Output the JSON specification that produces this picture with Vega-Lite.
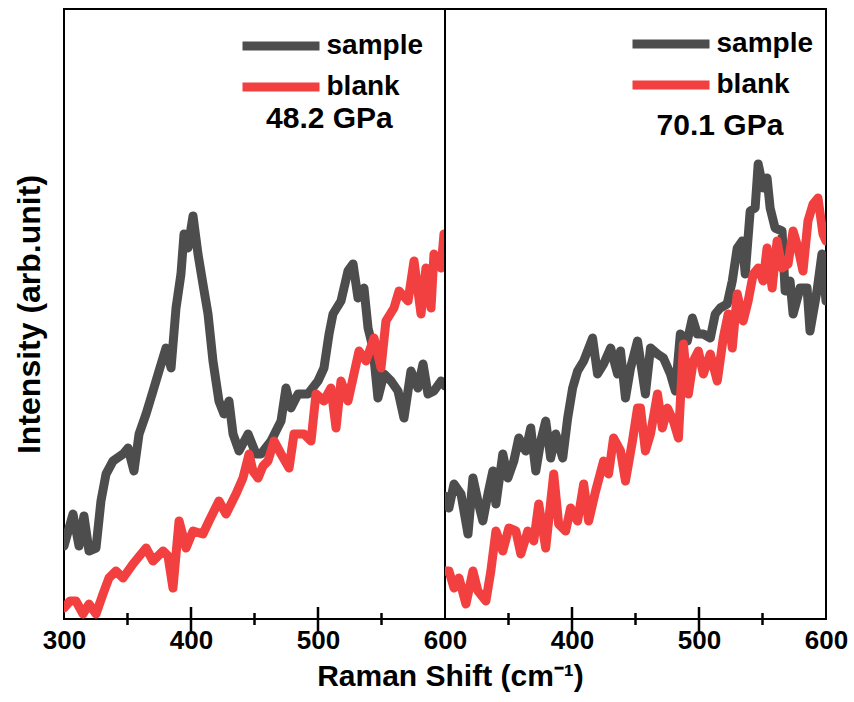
{
  "$schema": "https://vega.github.io/schema/vega-lite/v6.json",
  "padding": {"left": 12, "top": 8, "right": 10, "bottom": 5},
  "bounds": "flush",
  "spacing": 0,
  "background": "white",
  "config": {
    "font": "Liberation Sans",
    "view": {"stroke": "black", "strokeWidth": 2},
    "axis": {"grid": false},
    "line": {"strokeWidth": 9, "strokeJoin": "round", "strokeCap": "round"}
  },
  "datasets": {
    "a": [
      {"s":"sample","x":300,"y":73},{"s":"sample","x":307.1,"y":105},{"s":"sample","x":311.8,"y":73},{"s":"sample","x":315.7,"y":103},{"s":"sample","x":319.7,"y":68},{"s":"sample","x":325.2,"y":71},{"s":"sample","x":329.1,"y":118},{"s":"sample","x":333.1,"y":145},{"s":"sample","x":338.6,"y":158},{"s":"sample","x":346.5,"y":165},{"s":"sample","x":350.4,"y":171},{"s":"sample","x":355.1,"y":148},{"s":"sample","x":359.1,"y":185},{"s":"sample","x":364.6,"y":205},{"s":"sample","x":370.1,"y":228},{"s":"sample","x":374.8,"y":248},{"s":"sample","x":380.3,"y":271},{"s":"sample","x":384.3,"y":251},{"s":"sample","x":388.2,"y":311},{"s":"sample","x":392.1,"y":345},{"s":"sample","x":394.5,"y":385},{"s":"sample","x":397.6,"y":371},{"s":"sample","x":401.6,"y":403},{"s":"sample","x":405.5,"y":365},{"s":"sample","x":409.4,"y":335},{"s":"sample","x":413.4,"y":305},{"s":"sample","x":417.3,"y":258},{"s":"sample","x":422.0,"y":218},{"s":"sample","x":426.0,"y":205},{"s":"sample","x":429.9,"y":218},{"s":"sample","x":433.1,"y":185},{"s":"sample","x":437.8,"y":168},{"s":"sample","x":444.9,"y":185},{"s":"sample","x":451.2,"y":165},{"s":"sample","x":455.1,"y":165},{"s":"sample","x":463.0,"y":178},{"s":"sample","x":470.9,"y":198},{"s":"sample","x":474.8,"y":231},{"s":"sample","x":478.7,"y":211},{"s":"sample","x":484.3,"y":225},{"s":"sample","x":492.1,"y":225},{"s":"sample","x":500.0,"y":238},{"s":"sample","x":504.7,"y":251},{"s":"sample","x":508.7,"y":285},{"s":"sample","x":511.8,"y":305},{"s":"sample","x":518.1,"y":318},{"s":"sample","x":523.6,"y":348},{"s":"sample","x":527.6,"y":355},{"s":"sample","x":531.5,"y":321},{"s":"sample","x":536.2,"y":331},{"s":"sample","x":539.4,"y":291},{"s":"sample","x":543.3,"y":271},{"s":"sample","x":547.2,"y":221},{"s":"sample","x":552.0,"y":245},{"s":"sample","x":557.5,"y":238},{"s":"sample","x":563.0,"y":228},{"s":"sample","x":567.7,"y":201},{"s":"sample","x":573.2,"y":248},{"s":"sample","x":578.7,"y":231},{"s":"sample","x":582.7,"y":255},{"s":"sample","x":586.6,"y":225},{"s":"sample","x":591.3,"y":228},{"s":"sample","x":596.9,"y":238},{"s":"sample","x":600,"y":233},
      {"s":"blank","x":300,"y":11},{"s":"blank","x":304.7,"y":18},{"s":"blank","x":309.4,"y":18},{"s":"blank","x":315.0,"y":5},{"s":"blank","x":319.7,"y":15},{"s":"blank","x":325.2,"y":5},{"s":"blank","x":330.7,"y":25},{"s":"blank","x":335.4,"y":41},{"s":"blank","x":340.9,"y":48},{"s":"blank","x":346.5,"y":41},{"s":"blank","x":354.3,"y":55},{"s":"blank","x":364.6,"y":71},{"s":"blank","x":370.1,"y":58},{"s":"blank","x":378.0,"y":68},{"s":"blank","x":381.9,"y":63},{"s":"blank","x":385.8,"y":31},{"s":"blank","x":390.6,"y":98},{"s":"blank","x":396.1,"y":71},{"s":"blank","x":401.6,"y":88},{"s":"blank","x":409.4,"y":85},{"s":"blank","x":414.2,"y":98},{"s":"blank","x":422.0,"y":118},{"s":"blank","x":427.6,"y":105},{"s":"blank","x":435.4,"y":125},{"s":"blank","x":440.9,"y":141},{"s":"blank","x":445.7,"y":165},{"s":"blank","x":448.8,"y":148},{"s":"blank","x":452.8,"y":141},{"s":"blank","x":456.7,"y":153},{"s":"blank","x":460.6,"y":158},{"s":"blank","x":465.4,"y":178},{"s":"blank","x":470.9,"y":165},{"s":"blank","x":477.2,"y":151},{"s":"blank","x":481.1,"y":185},{"s":"blank","x":489.0,"y":185},{"s":"blank","x":494.5,"y":178},{"s":"blank","x":498.4,"y":225},{"s":"blank","x":504.7,"y":218},{"s":"blank","x":510.2,"y":231},{"s":"blank","x":514.2,"y":191},{"s":"blank","x":518.1,"y":238},{"s":"blank","x":523.6,"y":218},{"s":"blank","x":528.3,"y":245},{"s":"blank","x":532.3,"y":268},{"s":"blank","x":537.8,"y":258},{"s":"blank","x":544.1,"y":281},{"s":"blank","x":549.6,"y":251},{"s":"blank","x":553.5,"y":298},{"s":"blank","x":559.8,"y":311},{"s":"blank","x":563.8,"y":328},{"s":"blank","x":570.9,"y":318},{"s":"blank","x":575.6,"y":358},{"s":"blank","x":581.1,"y":305},{"s":"blank","x":585.0,"y":351},{"s":"blank","x":589.0,"y":311},{"s":"blank","x":591.3,"y":365},{"s":"blank","x":596.9,"y":351},{"s":"blank","x":599.2,"y":385}
    ],
    "b": [
      {"s":"sample","x":300,"y":123},{"s":"sample","x":303.1,"y":111},{"s":"sample","x":307.1,"y":135},{"s":"sample","x":312.6,"y":125},{"s":"sample","x":318.1,"y":85},{"s":"sample","x":322.0,"y":141},{"s":"sample","x":325.9,"y":118},{"s":"sample","x":329.8,"y":98},{"s":"sample","x":333.8,"y":125},{"s":"sample","x":337.7,"y":148},{"s":"sample","x":340.1,"y":115},{"s":"sample","x":345.5,"y":165},{"s":"sample","x":349.5,"y":141},{"s":"sample","x":354.2,"y":158},{"s":"sample","x":358.1,"y":181},{"s":"sample","x":363.6,"y":168},{"s":"sample","x":367.5,"y":191},{"s":"sample","x":371.5,"y":148},{"s":"sample","x":375.4,"y":178},{"s":"sample","x":379.3,"y":198},{"s":"sample","x":383.2,"y":161},{"s":"sample","x":387.2,"y":185},{"s":"sample","x":392.7,"y":161},{"s":"sample","x":396.6,"y":201},{"s":"sample","x":400.5,"y":231},{"s":"sample","x":404.4,"y":248},{"s":"sample","x":409.2,"y":258},{"s":"sample","x":416.2,"y":281},{"s":"sample","x":420.1,"y":245},{"s":"sample","x":424.9,"y":255},{"s":"sample","x":430.4,"y":271},{"s":"sample","x":435.9,"y":245},{"s":"sample","x":438.2,"y":268},{"s":"sample","x":442.1,"y":221},{"s":"sample","x":446.1,"y":251},{"s":"sample","x":451.6,"y":278},{"s":"sample","x":457.8,"y":225},{"s":"sample","x":461.8,"y":271},{"s":"sample","x":467.3,"y":265},{"s":"sample","x":472.0,"y":261},{"s":"sample","x":477.5,"y":245},{"s":"sample","x":481.4,"y":228},{"s":"sample","x":485.3,"y":285},{"s":"sample","x":490.8,"y":278},{"s":"sample","x":494.8,"y":301},{"s":"sample","x":498.7,"y":285},{"s":"sample","x":503.4,"y":285},{"s":"sample","x":508.9,"y":281},{"s":"sample","x":512.8,"y":305},{"s":"sample","x":516.7,"y":311},{"s":"sample","x":522.2,"y":315},{"s":"sample","x":526.2,"y":338},{"s":"sample","x":530.1,"y":371},{"s":"sample","x":534.0,"y":378},{"s":"sample","x":536.4,"y":345},{"s":"sample","x":540.3,"y":408},{"s":"sample","x":544.2,"y":411},{"s":"sample","x":546.6,"y":455},{"s":"sample","x":550.5,"y":431},{"s":"sample","x":553.6,"y":441},{"s":"sample","x":556.0,"y":411},{"s":"sample","x":559.9,"y":391},{"s":"sample","x":565.4,"y":388},{"s":"sample","x":567.8,"y":328},{"s":"sample","x":571.7,"y":338},{"s":"sample","x":574.1,"y":305},{"s":"sample","x":579.6,"y":331},{"s":"sample","x":585.1,"y":331},{"s":"sample","x":587.4,"y":288},{"s":"sample","x":592.9,"y":328},{"s":"sample","x":596.8,"y":365},{"s":"sample","x":600,"y":318},
      {"s":"blank","x":300,"y":48},{"s":"blank","x":303.1,"y":48},{"s":"blank","x":307.1,"y":31},{"s":"blank","x":311.0,"y":41},{"s":"blank","x":316.5,"y":15},{"s":"blank","x":322.0,"y":48},{"s":"blank","x":325.9,"y":28},{"s":"blank","x":332.2,"y":18},{"s":"blank","x":336.1,"y":48},{"s":"blank","x":340.1,"y":88},{"s":"blank","x":345.5,"y":68},{"s":"blank","x":350.3,"y":91},{"s":"blank","x":355.8,"y":88},{"s":"blank","x":359.7,"y":65},{"s":"blank","x":365.2,"y":88},{"s":"blank","x":369.9,"y":78},{"s":"blank","x":373.8,"y":115},{"s":"blank","x":379.3,"y":71},{"s":"blank","x":385.6,"y":145},{"s":"blank","x":389.5,"y":95},{"s":"blank","x":395.0,"y":88},{"s":"blank","x":398.9,"y":111},{"s":"blank","x":404.4,"y":98},{"s":"blank","x":409.2,"y":135},{"s":"blank","x":413.1,"y":98},{"s":"blank","x":418.6,"y":128},{"s":"blank","x":424.9,"y":158},{"s":"blank","x":428.8,"y":145},{"s":"blank","x":432.7,"y":181},{"s":"blank","x":438.2,"y":168},{"s":"blank","x":442.1,"y":138},{"s":"blank","x":447.6,"y":178},{"s":"blank","x":451.6,"y":211},{"s":"blank","x":453.9,"y":211},{"s":"blank","x":457.8,"y":168},{"s":"blank","x":461.8,"y":185},{"s":"blank","x":467.3,"y":225},{"s":"blank","x":471.2,"y":191},{"s":"blank","x":475.1,"y":211},{"s":"blank","x":479.8,"y":198},{"s":"blank","x":483.8,"y":181},{"s":"blank","x":487.7,"y":275},{"s":"blank","x":491.6,"y":225},{"s":"blank","x":495.5,"y":258},{"s":"blank","x":499.5,"y":268},{"s":"blank","x":503.4,"y":245},{"s":"blank","x":508.9,"y":265},{"s":"blank","x":514.4,"y":238},{"s":"blank","x":519.1,"y":281},{"s":"blank","x":523.0,"y":305},{"s":"blank","x":526.2,"y":271},{"s":"blank","x":530.1,"y":325},{"s":"blank","x":534.8,"y":298},{"s":"blank","x":538.7,"y":318},{"s":"blank","x":542.7,"y":345},{"s":"blank","x":546.6,"y":351},{"s":"blank","x":550.5,"y":338},{"s":"blank","x":553.6,"y":371},{"s":"blank","x":557.6,"y":331},{"s":"blank","x":561.5,"y":378},{"s":"blank","x":565.4,"y":351},{"s":"blank","x":570.1,"y":355},{"s":"blank","x":574.1,"y":388},{"s":"blank","x":578.0,"y":371},{"s":"blank","x":581.9,"y":348},{"s":"blank","x":585.8,"y":398},{"s":"blank","x":589.8,"y":415},{"s":"blank","x":593.7,"y":421},{"s":"blank","x":597.6,"y":385},{"s":"blank","x":600,"y":378}
    ],
    "major": [{"t": 400}, {"t": 500}],
    "minor": [{"t": 350}, {"t": 450}, {"t": 550}]
  },
  "resolve": {"scale": {"color": "independent"}, "legend": {"color": "independent"}},
  "hconcat": [
    {
      "width": 381,
      "height": 610,
      "resolve": {"axis": {"x": "independent"}},
      "layer": [
        {
          "data": {"name": "a"},
          "mark": {"type": "line", "clip": true},
          "encoding": {
            "x": {
              "field": "x", "type": "quantitative",
              "scale": {"domain": [300, 600], "nice": false, "zero": false},
              "axis": {
                "orient": "bottom",
                "title": "Raman Shift (cm⁻¹)", "titleX": 386, "titleFontSize": 30, "titleFontWeight": "bold", "titleColor": "black", "titlePadding": 8,
                "values": [300, 400, 500, 600],
                "labelFontSize": 26, "labelFontWeight": "bold", "labelColor": "black", "labelFlush": false, "labelOverlap": false, "labelBound": false, "labelPadding": 8,
                "ticks": false, "tickSize": 0,
                "domain": false
              }
            },
            "y": {
              "field": "y", "type": "quantitative",
              "scale": {"domain": [0, 610], "nice": false, "zero": false},
              "axis": {"title": "Intensity (arb.unit)", "labels": false, "ticks": false, "domain": false, "titleFontSize": 32, "titleFontWeight": "bold", "titleColor": "black", "titlePadding": 18}
            },
            "color": {
              "field": "s", "type": "nominal",
              "scale": {"domain": ["sample", "blank"], "range": ["#4d4d4d", "#f23f3f"]},
              "legend": {
                "title": null,
                "orient": "none", "legendX": 198.5, "legendY": 18.5, "padding": 0,
                "symbolType": "M-2.75,0H2.75", "symbolSize": 784, "symbolStrokeWidth": 9,
                "labelFontSize": 28, "labelFontWeight": "bold", "labelColor": "black", "labelOffset": 27,
                "rowPadding": 8,
                "encode": {"symbols": {"update": {"strokeCap": {"value": "round"}}}}
              }
            },
            "order": {"field": "s", "sort": "descending"}
          }
        },
        {
          "data": {"name": "major"},
          "mark": {"type": "tick", "orient": "vertical", "color": "black", "size": 24, "thickness": 2.5, "opacity": 1},
          "encoding": {
            "x": {"field": "t", "type": "quantitative", "axis": null},
            "y": {"datum": 0, "type": "quantitative"}
          }
        },
        {
          "data": {"name": "minor"},
          "mark": {"type": "tick", "orient": "vertical", "color": "black", "size": 12, "thickness": 2.5, "opacity": 1},
          "encoding": {
            "x": {"field": "t", "type": "quantitative", "axis": null},
            "y": {"datum": 0, "type": "quantitative"}
          }
        },
        {
          "data": {"values": [{}]},
          "mark": {"type": "text", "text": "48.2 GPa", "font": "Liberation Sans", "fontSize": 30, "fontWeight": "bold", "color": "black", "align": "center", "baseline": "alphabetic"},
          "encoding": {
            "x": {"datum": 509, "type": "quantitative", "axis": null},
            "y": {"datum": 491, "type": "quantitative"}
          }
        }
      ]
    },
    {
      "width": 381,
      "height": 610,
      "resolve": {"axis": {"x": "independent"}},
      "layer": [
        {
          "data": {"name": "b"},
          "mark": {"type": "line", "clip": true},
          "encoding": {
            "x": {
              "field": "x", "type": "quantitative",
              "scale": {"domain": [300, 600], "nice": false, "zero": false},
              "axis": {
                "orient": "bottom",
                "title": null,
                "values": [400, 500, 600],
                "labelFontSize": 26, "labelFontWeight": "bold", "labelColor": "black", "labelFlush": false, "labelOverlap": false, "labelBound": false, "labelPadding": 8,
                "ticks": false, "tickSize": 0,
                "domain": false
              }
            },
            "y": {
              "field": "y", "type": "quantitative",
              "scale": {"domain": [0, 610], "nice": false, "zero": false},
              "axis": null
            },
            "color": {
              "field": "s", "type": "nominal",
              "scale": {"domain": ["sample", "blank"], "range": ["#4d4d4d", "#f23f3f"]},
              "legend": {
                "title": null,
                "orient": "none", "legendX": 207.5, "legendY": 16.5, "padding": 0,
                "symbolType": "M-2.75,0H2.75", "symbolSize": 784, "symbolStrokeWidth": 9,
                "labelFontSize": 28, "labelFontWeight": "bold", "labelColor": "black", "labelOffset": 27,
                "rowPadding": 8,
                "encode": {"symbols": {"update": {"strokeCap": {"value": "round"}}}}
              }
            },
            "order": {"field": "s", "sort": "descending"}
          }
        },
        {
          "data": {"name": "major"},
          "mark": {"type": "tick", "orient": "vertical", "color": "black", "size": 24, "thickness": 2.5, "opacity": 1},
          "encoding": {
            "x": {"field": "t", "type": "quantitative", "axis": null},
            "y": {"datum": 0, "type": "quantitative"}
          }
        },
        {
          "data": {"name": "minor"},
          "mark": {"type": "tick", "orient": "vertical", "color": "black", "size": 12, "thickness": 2.5, "opacity": 1},
          "encoding": {
            "x": {"field": "t", "type": "quantitative", "axis": null},
            "y": {"datum": 0, "type": "quantitative"}
          }
        },
        {
          "data": {"values": [{}]},
          "mark": {"type": "text", "text": "70.1 GPa", "font": "Liberation Sans", "fontSize": 30, "fontWeight": "bold", "color": "black", "align": "center", "baseline": "alphabetic"},
          "encoding": {
            "x": {"datum": 516.5, "type": "quantitative", "axis": null},
            "y": {"datum": 484, "type": "quantitative"}
          }
        }
      ]
    }
  ]
}
